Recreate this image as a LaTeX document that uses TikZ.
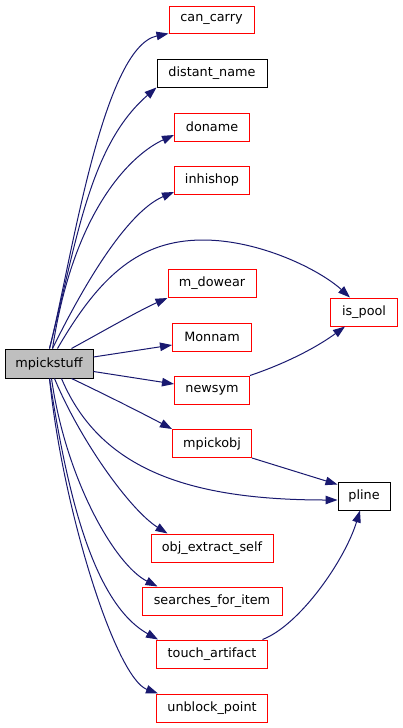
\documentclass[tikz,border=0pt]{standalone}
\usepackage{fontspec}
\setmainfont{DejaVu Sans}
\usetikzlibrary{arrows.meta}
\definecolor{edgeblue}{HTML}{191970}
\definecolor{nodegray}{HTML}{BFBFBF}
\begin{document}
\begin{tikzpicture}[x=1pt,y=-1pt,
  fn/.style={draw=red, line width=1pt, inner sep=0pt, font=\fontsize{12.8}{14}\selectfont, minimum height=28pt},
  docn/.style={fn, draw=black},
  edge/.style={draw=edgeblue, line width=1pt, -{Triangle[length=12pt,width=8.5pt]}}]
\useasboundingbox[fill=white] (0,0) rectangle (403,728);
\node[docn, fill=nodegray, minimum width=88pt, minimum height=29pt] (mp) at (49,363.5) {mpickstuff};
\node[fn, minimum width=85pt, minimum height=27pt] (cc) at (211.5,19.5) {can\_carry};
\node[docn, minimum width=110pt] (dn) at (212,73) {distant\_name};
\node[fn, minimum width=75pt] (dname) at (212,127) {doname};
\node[fn, minimum width=75pt] (ih) at (212,180) {inhishop};
\node[fn, minimum width=88pt] (md) at (212,283.5) {m\_dowear};
\node[fn, minimum width=79pt] (mn) at (212,337) {Monnam};
\node[fn, minimum width=75pt] (ns) at (212,390) {newsym};
\node[fn, minimum width=67pt] (ip) at (364,312) {is\_pool};
\node[fn, minimum width=79pt] (mo) at (212,443.5) {mpickobj};
\node[docn, minimum width=52pt] (pl) at (364,496) {pline};
\node[fn, minimum width=122pt] (oes) at (212,548) {obj\_extract\_self};
\node[fn, minimum width=140pt] (sfi) at (212,601) {searches\_for\_item};
\node[fn, minimum width=111pt] (ta) at (212,654) {touch\_artifact};
\node[fn, minimum width=111pt] (ub) at (212,708) {unblock\_point};

\draw[edge] ([xshift=45pt]mp.north west) .. controls (70.6,266.6) and (101.7,47.4) .. (cc.south west);
\draw[edge] ([xshift=45pt]mp.north west) .. controls (76.8,242) and (88.9,146) .. (dn.south west);
\draw[edge] ([xshift=48pt]mp.north west) .. controls (75,201.6) and (137,151.7) .. ([yshift=-8pt]dname.west);
\draw[edge] ([xshift=48pt]mp.north west) .. controls (112,228) and (148,203) .. ([yshift=-12pt]ih.west);
\draw[edge] ([xshift=53pt]mp.north west) .. controls (100,275) and (140,240) .. (203,240) .. controls (260,240) and (320,270) .. ([xshift=-14pt]ip.north);
\draw[edge] ([xshift=67pt]mp.north west) .. controls (100,333) and (140,310) .. (md.south west);
\draw[edge] ([yshift=6.5pt]mp.east) -- ([yshift=-8pt]mn.west);
\draw[edge] ([yshift=-8pt]mp.east) -- ([yshift=6pt]ns.west);
\draw[edge] ([xshift=67pt]mp.south west) .. controls (100,392) and (140,412) .. (mo.north west);
\draw[edge] ([xshift=57pt]mp.south west) .. controls (100,470) and (190,500) .. ([yshift=-4pt]pl.west);
\draw[edge] ([xshift=50pt]mp.south west) .. controls (80,440) and (130,510) .. ([xshift=17pt]oes.north west);
\draw[edge] ([xshift=47pt]mp.south west) .. controls (66,480) and (115,565) .. ([xshift=16pt]sfi.north west);
\draw[edge] ([xshift=45pt]mp.south west) .. controls (66,485) and (91,602) .. ([xshift=2pt]ta.north west);
\draw[edge] ([xshift=45pt]mp.south west) .. controls (63,512) and (116,678) .. ([xshift=2pt]ub.north west);
\draw[edge] (ns.north east) .. controls (290,362) and (320,345) .. ([xshift=-19pt]ip.south);
\draw[edge] (mo.south east) -- ([yshift=-3pt]pl.north west);
\draw[edge] ([xshift=-5.5pt]ta.north east) .. controls (300,625) and (345,560) .. ([xshift=-4pt]pl.south);
\end{tikzpicture}
\end{document}
